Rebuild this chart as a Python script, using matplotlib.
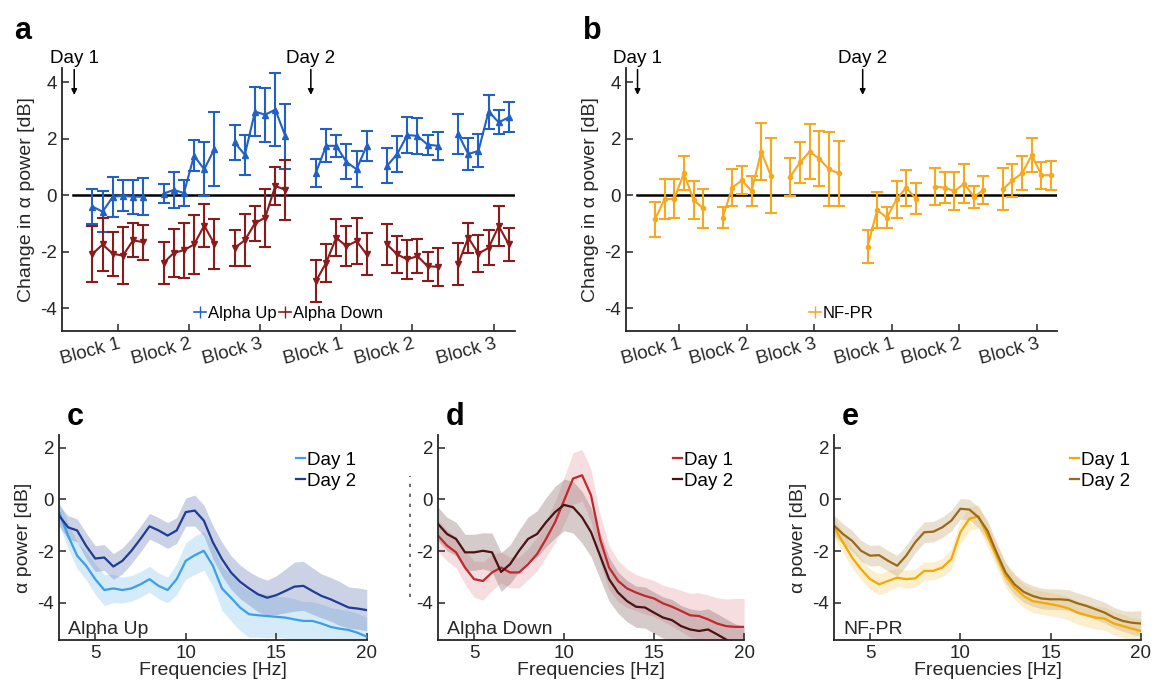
import matplotlib
matplotlib.use('Agg')
import matplotlib.pyplot as plt
from matplotlib.lines import Line2D
import numpy as np

plt.rcParams['font.family'] = ['Liberation Sans', 'DejaVu Sans']
plt.rcParams['xtick.direction'] = 'in'
plt.rcParams['ytick.direction'] = 'in'
plt.rcParams['axes.unicode_minus'] = False

# ---- session data (panels a, b) ----
trial_x = [1, 2, 3, 4, 5, 6, 8, 9, 10, 11, 12, 13, 15, 16, 17, 18, 19, 20,
           23, 24, 25, 26, 27, 28, 30, 31, 32, 33, 34, 35, 37, 38, 39, 40, 41, 42]
block_size = 6
block_ticks = [3.5, 10.5, 17.5, 25.5, 32.5, 40.5]
block_labels = ['Block 1', 'Block 2', 'Block 3', 'Block 1', 'Block 2', 'Block 3']
day_x = [-0.8, 22.5]
day_labels = ['Day 1', 'Day 2']

up_mean = [-0.4, -0.58, -0.05, -0.02, -0.05, -0.05,
           0.06, 0.19, 0.08, 1.4, 0.92, 1.63,
           1.87, 1.43, 2.96, 2.85, 3.03, 2.08,
           0.8, 1.75, 1.75, 1.18, 0.92, 1.75,
           1.04, 1.46, 2.13, 2.1, 1.79, 1.75,
           2.17, 1.46, 1.57, 2.96, 2.58, 2.76]
up_err = [0.62, 0.72, 0.7, 0.55, 0.6, 0.65,
          0.33, 0.65, 0.45, 0.55, 0.95, 1.3,
          0.62, 0.7, 0.88, 0.95, 1.3, 1.15,
          0.5, 0.58, 0.38, 0.62, 0.63, 0.53,
          0.62, 0.62, 0.65, 0.65, 0.35, 0.5,
          0.72, 0.55, 0.58, 0.6, 0.42, 0.53]
down_mean = [-2.07, -1.74, -2.07, -2.13, -1.59, -1.66,
             -2.39, -2.04, -1.94, -1.74, -1.07, -1.72,
             -1.86, -1.59, -0.99, -0.79, 0.33, 0.19,
             -3.04, -2.39, -1.5, -1.8, -1.62, -2.09,
             -1.74, -2.09, -2.27, -2.15, -2.51, -2.53,
             -2.43, -1.5, -2.06, -1.86, -1.09, -1.74]
down_err = [1.0, 0.95, 0.77, 1.0, 0.6, 0.62,
            0.75, 0.85, 0.97, 1.05, 0.77, 0.87,
            0.63, 0.92, 0.62, 1.03, 0.68, 1.05,
            0.75, 0.67, 0.65, 0.7, 0.82, 0.74,
            0.72, 0.65, 0.7, 0.6, 0.52, 0.66,
            0.73, 0.53, 0.64, 0.62, 0.7, 0.59]
nfpr_mean = [-0.85, -0.14, -0.12, 0.78, -0.17, -0.46,
             -0.79, 0.27, 0.53, 0.15, 1.54, 0.69,
             0.66, 1.16, 1.54, 1.3, 0.92, 0.78,
             -1.82, -0.52, -0.79, -0.14, 0.27, -0.12,
             0.31, 0.27, 0.15, 0.41, -0.05, 0.18,
             0.21, 0.53, 0.78, 1.42, 0.71, 0.71]
nfpr_err = [0.62, 0.7, 0.7, 0.6, 0.67, 0.7,
            0.36, 0.66, 0.5, 0.53, 1.0, 1.33,
            0.67, 0.71, 0.97, 0.98, 1.31, 1.15,
            0.58, 0.62, 0.38, 0.65, 0.64, 0.55,
            0.64, 0.55, 0.67, 0.7, 0.39, 0.5,
            0.74, 0.59, 0.6, 0.61, 0.47, 0.51]

# ---- spectra (panels c, d, e) ----
freqs = [3, 3.5, 4, 4.5, 5, 5.5, 6, 6.5, 7, 7.5, 8, 8.5, 9, 9.5, 10, 10.5, 11, 11.5,
         12, 12.5, 13, 13.5, 14, 14.5, 15, 15.5, 16, 16.5, 17, 17.5, 18, 18.5, 19, 19.5, 20]

up_day1 = [-0.49, -1.4, -2.18, -2.57, -3.09, -3.51, -3.45, -3.51, -3.45, -3.29, -3.09, -3.35,
           -3.51, -3.09, -2.38, -2.16, -1.99, -2.57, -3.45, -3.81, -4.19, -4.45, -4.49, -4.52,
           -4.55, -4.58, -4.65, -4.71, -4.71, -4.81, -4.94, -5.01, -5.06, -5.17, -5.32]
up_day1_sd = [0.45, 0.5, 0.5, 0.55, 0.6, 0.6, 0.55, 0.5, 0.5, 0.5, 0.5, 0.5,
              0.5, 0.6, 0.7, 0.75, 0.75, 0.8, 0.85, 0.9, 0.9, 0.9, 0.85, 0.85,
              0.8, 0.8, 0.8, 0.75, 0.75, 0.75, 0.75, 0.75, 0.75, 0.75, 0.75]
up_day2 = [-0.62, -1.08, -1.2, -1.8, -2.29, -2.25, -2.6, -2.38, -1.99, -1.53, -1.04, -1.2,
           -1.4, -1.2, -0.49, -0.43, -0.82, -1.66, -2.31, -2.83, -3.19, -3.45, -3.68, -3.81,
           -3.71, -3.55, -3.38, -3.35, -3.55, -3.74, -3.87, -4.03, -4.19, -4.23, -4.29]
up_day2_sd = [0.4, 0.45, 0.45, 0.5, 0.5, 0.5, 0.5, 0.5, 0.5, 0.5, 0.5, 0.5,
              0.5, 0.5, 0.55, 0.6, 0.6, 0.65, 0.65, 0.65, 0.65, 0.65, 0.68, 0.68,
              0.75, 0.85, 0.95, 0.95, 0.9, 0.85, 0.85, 0.85, 0.8, 0.8, 0.8]

down_day1 = [-1.4, -1.79, -2.05, -2.64, -3.09, -3.16, -2.83, -2.64, -2.83, -2.83, -2.51, -2.12,
             -1.53, -0.88, -0.04, 0.81, 0.94, 0.16, -1.53, -2.64, -3.16, -3.45, -3.61, -3.74,
             -3.84, -4.03, -4.16, -4.32, -4.49, -4.52, -4.65, -4.81, -4.91, -4.94, -4.94]
down_day1_sd = [0.6, 0.6, 0.6, 0.65, 0.7, 0.75, 0.7, 0.6, 0.6, 0.6, 0.6, 0.65,
                0.7, 0.8, 0.9, 1.0, 1.0, 1.0, 0.95, 0.85, 0.8, 0.75, 0.7, 0.7,
                0.7, 0.7, 0.75, 0.8, 0.85, 0.9, 0.95, 1.0, 1.05, 1.1, 1.1]
down_day2 = [-0.95, -1.34, -1.53, -2.05, -2.05, -1.99, -2.05, -2.81, -2.51, -1.99, -1.53, -1.34,
             -0.88, -0.49, -0.21, -0.3, -0.69, -1.27, -2.18, -3.09, -3.61, -3.94, -4.16, -4.19,
             -4.39, -4.58, -4.68, -4.91, -5.04, -5.1, -5.04, -5.23, -5.43, -5.62, -5.75]
down_day2_sd = [0.65, 0.65, 0.65, 0.7, 0.7, 0.7, 0.75, 0.75, 0.75, 0.8, 0.85, 0.9,
                0.95, 1.0, 1.0, 1.0, 1.0, 0.95, 0.9, 0.85, 0.8, 0.8, 0.8, 0.8,
                0.8, 0.8, 0.8, 0.8, 0.8, 0.8, 0.8, 0.8, 0.8, 0.8, 0.8]

nf_day1 = [-1.08, -1.66, -2.25, -2.7, -3.09, -3.29, -3.16, -3.03, -3.09, -3.06, -2.77, -2.77,
           -2.64, -2.31, -1.27, -0.75, -0.65, -1.4, -2.18, -2.96, -3.42, -3.74, -3.94, -4.0,
           -4.06, -4.13, -4.23, -4.39, -4.49, -4.58, -4.62, -4.81, -4.91, -5.01, -5.1]
nf_day1_sd = [0.4, 0.4, 0.4, 0.4, 0.4, 0.4, 0.4, 0.35, 0.35, 0.35, 0.35, 0.35,
              0.35, 0.4, 0.45, 0.45, 0.45, 0.45, 0.45, 0.45, 0.45, 0.45, 0.45, 0.45,
              0.45, 0.45, 0.45, 0.45, 0.45, 0.45, 0.45, 0.45, 0.45, 0.45, 0.45]
nf_day2 = [-1.01, -1.34, -1.6, -1.99, -2.18, -2.16, -2.38, -2.57, -2.18, -1.66, -1.27, -1.25,
           -1.08, -0.82, -0.36, -0.39, -0.69, -1.21, -2.05, -2.83, -3.29, -3.58, -3.74, -3.84,
           -3.87, -3.87, -3.9, -4.03, -4.13, -4.26, -4.39, -4.58, -4.71, -4.78, -4.81]
nf_day2_sd = [0.4, 0.4, 0.4, 0.4, 0.4, 0.4, 0.4, 0.4, 0.4, 0.4, 0.4, 0.4,
              0.4, 0.4, 0.4, 0.4, 0.4, 0.4, 0.4, 0.4, 0.4, 0.4, 0.4, 0.4,
              0.4, 0.4, 0.4, 0.4, 0.4, 0.4, 0.4, 0.4, 0.4, 0.45, 0.5]

AX_COL = '#262626'
BLUE = '#2160C4'
DRED = '#8B1A1A'
ORANGE = '#F7A81E'


def style_axes(ax):
    for s in ['top', 'right']:
        ax.spines[s].set_visible(False)
    for s in ['left', 'bottom']:
        ax.spines[s].set_color(AX_COL)
        ax.spines[s].set_linewidth(1.3)
    ax.tick_params(colors=AX_COL, labelsize=13.5, length=5, width=1.1)


def session_panel(ax, series, legend_items, ylabel):
    style_axes(ax)
    ax.axhline(0, xmin=0.025, xmax=1.0, color='black', lw=1.8, zorder=1)
    for mean, err, col, mk, ms in series:
        # each block is drawn as its own connected segment
        for i in range(0, len(trial_x), block_size):
            sl = slice(i, i + block_size)
            ax.errorbar(trial_x[sl], mean[sl], yerr=err[sl], color=col, marker=mk,
                        markersize=ms, lw=1.5, capsize=4, capthick=1.5,
                        elinewidth=1.5, zorder=3)
    ax.set_xlim(-2.0, 42.6)
    ax.set_ylim(-4.8, 4.5)
    ax.set_yticks([-4, -2, 0, 2, 4])
    ax.set_xticks(block_ticks)
    ax.set_xticklabels(block_labels, rotation=15, ha='right', rotation_mode='anchor')
    ax.set_ylabel(ylabel, fontsize=14, color=AX_COL)
    for x, lab in zip(day_x, day_labels):
        ax.annotate('', xy=(x, 3.55), xytext=(x, 4.45),
                    arrowprops=dict(arrowstyle='-|>', color='black', lw=1.1,
                                    mutation_scale=8, shrinkA=0, shrinkB=0),
                    annotation_clip=False)
        ax.text(x, 4.55, lab, ha='center', va='bottom', fontsize=13.5, clip_on=False)
    handles = [Line2D([], [], color=c, marker='|', markersize=8, lw=1.2) for c, _ in legend_items]
    ax.legend(handles, [l for _, l in legend_items], loc='lower center',
              bbox_to_anchor=(0.5, -0.02), ncol=len(legend_items), frameon=False,
              fontsize=12, handlelength=0.7, handletextpad=0.1, columnspacing=0.2)


def spectrum_panel(ax, curves, label):
    style_axes(ax)
    f = np.array(freqs)
    for mean, sd, col, fill_col in curves:
        m = np.array(mean)
        s = np.array(sd)
        ax.fill_between(f, m - s, m + s, color=fill_col, alpha=0.35, lw=0)
    for mean, sd, col, fill_col in curves:
        ax.plot(f, mean, color=col, lw=1.6)
    ax.set_xlim(3, 20)
    ax.set_ylim(-5.45, 2.5)
    ax.set_xticks([5, 10, 15, 20])
    ax.set_yticks([-4, -2, 0, 2])
    ax.set_xlabel('Frequencies [Hz]', fontsize=14, color=AX_COL, labelpad=0)
    ax.text(0.03, 0.03, label, transform=ax.transAxes, fontsize=14, color=AX_COL)
    ax.legend([Line2D([], [], color=c[2], lw=1.6) for c in curves], ['Day 1', 'Day 2'],
              loc='upper right', bbox_to_anchor=(1.02, 1.0), frameon=False, fontsize=13.5,
              handlelength=0.5, handletextpad=0.1, labelspacing=0.2)


fig = plt.figure(figsize=(11.57, 6.95), dpi=100)
ax_a = fig.add_axes([0.0536, 0.5237, 0.3915, 0.3784])
ax_b = fig.add_axes([0.541, 0.5237, 0.3725, 0.3784])
ax_c = fig.add_axes([0.051, 0.0791, 0.266, 0.295])
ax_d = fig.add_axes([0.3786, 0.0791, 0.2645, 0.295])
ax_e = fig.add_axes([0.7208, 0.0791, 0.2653, 0.295])

session_panel(ax_a, [(up_mean, up_err, BLUE, '^', 4), (down_mean, down_err, DRED, 'v', 4)],
              [(BLUE, 'Alpha Up'), (DRED, 'Alpha Down')], 'Change in α power [dB]')
session_panel(ax_b, [(nfpr_mean, nfpr_err, ORANGE, 'o', 3)],
              [(ORANGE, 'NF-PR')], 'Change in α power [dB]')

spectrum_panel(ax_c, [(up_day1, up_day1_sd, '#3A9FE6', '#8CC8F0'),
                      (up_day2, up_day2_sd, '#1E3C96', '#6A7FB8')], 'Alpha Up')
spectrum_panel(ax_d, [(down_day1, down_day1_sd, '#C0282D', '#E8A0A4'),
                      (down_day2, down_day2_sd, '#4A1212', '#8A6A6A')], 'Alpha Down')
spectrum_panel(ax_e, [(nf_day1, nf_day1_sd, '#F5A800', '#F8D27A'),
                      (nf_day2, nf_day2_sd, '#9A6A18', '#C4A878')], 'NF-PR')
ax_c.set_ylabel('α power [dB]', fontsize=14, color=AX_COL)
ax_e.set_ylabel('α power [dB]', fontsize=14, color=AX_COL)
# the y label of panel d is rendered only as broken dashes in the original
ax_d.plot([-0.092, -0.092], [0.21, 0.8], transform=ax_d.transAxes, clip_on=False,
          color='#555555', lw=1.2, ls=(0, (2, 4)))

for ax, letter, dx, dy in [(ax_a, 'a', -0.105, 1.14), (ax_b, 'b', -0.1, 1.14),
                           (ax_c, 'c', 0.026, 1.09), (ax_d, 'd', 0.025, 1.09),
                           (ax_e, 'e', 0.026, 1.09)]:
    ax.text(dx, dy, letter, transform=ax.transAxes, fontsize=22, fontweight='bold',
            va='center')

fig.savefig('out.png', dpi=100)
